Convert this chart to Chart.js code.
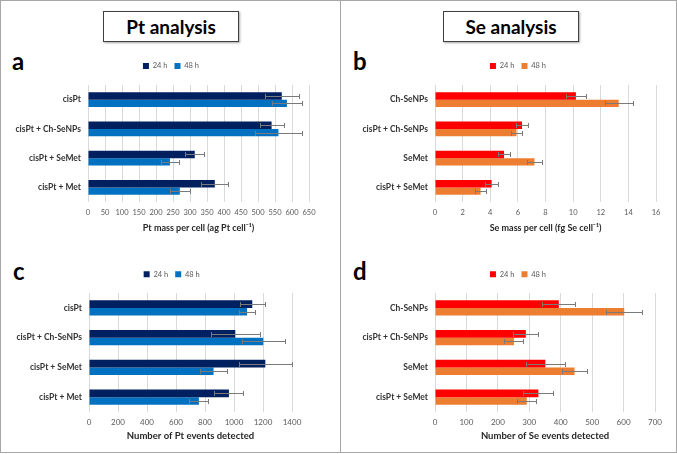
<!DOCTYPE html>
<html><head><meta charset="utf-8">
<script src="https://cdn.jsdelivr.net/npm/chart.js@4.4.1/dist/chart.umd.min.js"></script>
<style>
html,body{margin:0;padding:0;background:#fff;}
#fig{position:relative;width:677px;height:454px;overflow:hidden;font-family:Lato,'Open Sans',sans-serif;}
.frame{position:absolute;left:0;top:0;width:677px;height:453px;box-sizing:border-box;border:1px solid #a6a6a6;}
.divider{position:absolute;left:340px;top:0;width:1px;height:453px;background:#a6a6a6;}
.tbox{position:absolute;top:11px;width:136px;height:31px;box-sizing:border-box;border:1px solid #404040;text-align:center;font-weight:700;font-size:19px;line-height:29px;color:#000;box-shadow:1px 1px 2px rgba(0,0,0,0.35);background:#fff;}
.letter{position:absolute;font-weight:700;font-size:24px;line-height:24px;color:#000;}
canvas{position:absolute;}
</style></head>
<body>
<div id="fig">
  <div class="frame"></div>
  <div class="divider"></div>
  <div class="tbox" style="left:103px;">Pt analysis</div>
  <div class="tbox" style="left:443px;">Se analysis</div>
  <div class="letter" style="left:12px;top:49px;">a</div>
  <div class="letter" style="left:353px;top:49px;">b</div>
  <div class="letter" style="left:13px;top:259px;">c</div>
  <div class="letter" style="left:353px;top:259px;">d</div>
  <canvas id="ca" width="338" height="180" style="left:0px;top:55px;"></canvas>
  <canvas id="cb" width="337" height="180" style="left:340px;top:55px;"></canvas>
  <canvas id="cc" width="338" height="182" style="left:0px;top:263px;"></canvas>
  <canvas id="cd" width="337" height="182" style="left:340px;top:263px;"></canvas>
</div>
<script>
// ---------- data ----------
const seriesLabels = ['24 h', '48 h'];
const ptCategories = ['cisPt', 'cisPt + Ch-SeNPs', 'cisPt + SeMet', 'cisPt + Met'];
const seCategories = ['Ch-SeNPs', 'cisPt + Ch-SeNPs', 'SeMet', 'cisPt + SeMet'];

const ptMass24 = [570, 540, 314, 373];
const ptMass24Err = [50, 35, 28, 40];
const ptMass48 = [585, 560, 241, 270];
const ptMass48Err = [45, 70, 26, 30];

const seMass24 = [10.2, 6.3, 5.0, 4.1];
const seMass24Err = [0.75, 0.4, 0.43, 0.45];
const seMass48 = [13.3, 5.9, 7.2, 3.3];
const seMass48Err = [1.0, 0.4, 0.55, 0.4];

const ptEvents24 = [1126, 1009, 1216, 965];
const ptEvents24Err = [86, 170, 183, 100];
const ptEvents48 = [1090, 1202, 859, 758];
const ptEvents48Err = [54, 150, 95, 65];

const seEvents24 = [394, 289, 351, 329];
const seEvents24Err = [52, 40, 63, 48];
const seEvents48 = [602, 251, 444, 292];
const seEvents48Err = [57, 30, 39, 30];

const ptMassTicks = [0, 50, 100, 150, 200, 250, 300, 350, 400, 450, 500, 550, 600, 650];
const seMassTicks = [0, 2, 4, 6, 8, 10, 12, 14, 16];
const ptEventTicks = [0, 200, 400, 600, 800, 1000, 1200, 1400];
const seEventTicks = [0, 100, 200, 300, 400, 500, 600, 700];

const ptMassTitle = 'Pt mass per cell (ag Pt cell\u207B\u00B9)';
const seMassTitle = 'Se mass per cell (fg Se cell\u207B\u00B9)';
const ptEventTitle = 'Number of Pt events detected';
const seEventTitle = 'Number of Se events detected';

// ---------- chart code ----------
const errorBarPlugin = {
  id: 'errorBars',
  afterDatasetsDraw(chart) {
    const ctx = chart.ctx;
    const xs = chart.scales.x;
    chart.data.datasets.forEach((ds, di) => {
      const meta = chart.getDatasetMeta(di);
      meta.data.forEach((bar, i) => {
        const v = ds.data[i], e = ds.errors[i];
        const x1 = Math.round(xs.getPixelForValue(v - e)) + 0.5;
        const x2 = Math.round(xs.getPixelForValue(v + e)) + 0.5;
        const y = Math.round(bar.y) + 0.5;
        ctx.save();
        ctx.strokeStyle = '#7a7a7a';
        ctx.lineWidth = 1;
        ctx.beginPath();
        ctx.moveTo(x1, y); ctx.lineTo(x2, y);
        ctx.moveTo(x1, y - 2.5); ctx.lineTo(x1, y + 2.5);
        ctx.moveTo(x2, y - 2.5); ctx.lineTo(x2, y + 2.5);
        ctx.stroke();
        ctx.restore();
      });
    });
  }
};

function legendCenterPlugin(cx) {
  return {
    id: 'legendCenter',
    afterLayout(chart) {
      const lg = chart.legend;
      if (!lg) return;
      const d = cx - (lg.left + lg.right) / 2;
      lg.left += d; lg.right += d;
    }
  };
}

function makeChart(id, o) {
  const ticks = o.ticks;
  return new Chart(document.getElementById(id), {
    type: 'bar',
    data: {
      labels: o.categories,
      datasets: [
        {label: seriesLabels[0], data: o.d24, errors: o.e24, backgroundColor: o.c24, borderWidth: 0,
         categoryPercentage: 0.51, barPercentage: 1},
        {label: seriesLabels[1], data: o.d48, errors: o.e48, backgroundColor: o.c48, borderWidth: 0,
         categoryPercentage: 0.51, barPercentage: 1}
      ]
    },
    options: {
      indexAxis: 'y',
      responsive: false,
      animation: false,
      layout: {padding: {left: 2, right: o.padR, top: o.padT, bottom: o.padB}},
      plugins: {
        legend: {display: true, position: 'top', align: 'center',
          labels: {boxWidth: 6, boxHeight: 6, padding: 7, color: '#595959', font: {size: 7.5}}},
        title: {display: true, text: '', weight: 500, padding: 0, font: {size: o.spacer, lineHeight: 1}},
        tooltip: {enabled: false}
      },
      scales: {
        x: {
          type: 'linear', min: ticks[0], max: ticks[ticks.length - 1],
          afterBuildTicks(s) { s.ticks = ticks.map(v => ({value: v})); },
          grid: {color: '#d9d9d9', drawTicks: false},
          border: {display: false},
          ticks: {padding: o.tickPad, color: '#595959', font: {size: o.tickSize},
                  maxRotation: 0, minRotation: 0, autoSkip: false, callback: v => String(v)},
          title: {display: true, text: o.xTitle, color: '#262626', font: {size: o.titleSize, weight: 'bold'}, padding: 0},
          afterFit(s) { s.height = o.xH; }
        },
        y: {
          grid: {display: false, drawTicks: false},
          border: {display: false},
          ticks: {padding: 7, color: '#333333', font: {size: 8.5, weight: 'bold'}},
          afterFit(s) { s.width = o.yW; }
        }
      }
    },
    plugins: [errorBarPlugin, legendCenterPlugin(o.legendX)]
  });
}

function build() {
  Chart.defaults.font.family = "Lato, 'Open Sans', sans-serif";
  makeChart('ca', {categories: ptCategories, d24: ptMass24, e24: ptMass24Err, d48: ptMass48, e48: ptMass48Err,
    c24: '#002060', c48: '#0070C0', ticks: ptMassTicks, xTitle: ptMassTitle, legendX: 171,
    padR: 29, padT: 0.25, padB: 1.6, yW: 86, spacer: 5.25, xH: 31.4, tickPad: 6, tickSize: 7.5, titleSize: 9});
  makeChart('cb', {categories: seCategories, d24: seMass24, e24: seMass24Err, d48: seMass48, e48: seMass48Err,
    c24: '#FF0000', c48: '#ED7D31', ticks: seMassTicks, xTitle: seMassTitle, legendX: 178,
    padR: 21, padT: 0.25, padB: 1.6, yW: 93, spacer: 5.25, xH: 31.4, tickPad: 6, tickSize: 7.5, titleSize: 9});
  makeChart('cc', {categories: ptCategories, d24: ptEvents24, e24: ptEvents24Err, d48: ptEvents48, e48: ptEvents48Err,
    c24: '#002060', c48: '#0070C0', ticks: ptEventTicks, xTitle: ptEventTitle, legendX: 171.7,
    padR: 46, padT: 0.55, padB: 3, yW: 87, spacer: 4.95, xH: 30, tickPad: 6, tickSize: 8, titleSize: 9.5});
  makeChart('cd', {categories: seCategories, d24: seEvents24, e24: seEvents24Err, d48: seEvents48, e48: seEvents48Err,
    c24: '#FF0000', c48: '#ED7D31', ticks: seEventTicks, xTitle: seEventTitle, legendX: 178,
    padR: 22, padT: 0.55, padB: 3, yW: 93, spacer: 4.95, xH: 30, tickPad: 6, tickSize: 8, titleSize: 9.5});
}

let built = false;
function go() { if (!built) { built = true; build(); } }
if (document.fonts && document.fonts.load) {
  Promise.all([document.fonts.load('bold 10px Lato'), document.fonts.load('10px Lato')]).then(go, go);
  setTimeout(go, 1500);
} else { go(); }
</script>
</body></html>
